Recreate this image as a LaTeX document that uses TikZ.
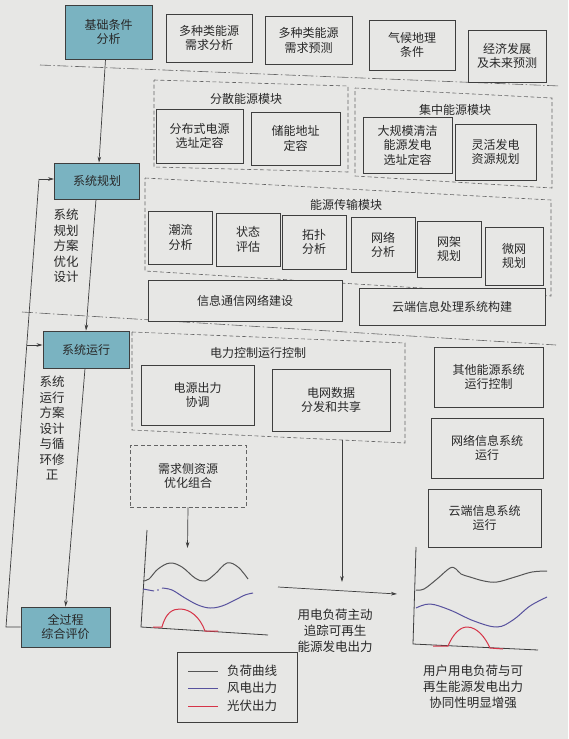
\documentclass[tikz,border=0pt]{standalone}
\usepackage{fontspec}
\setmainfont{Noto Sans CJK SC}
\usetikzlibrary{arrows.meta}
\definecolor{bg}{RGB}{231,231,229}
\definecolor{linec}{RGB}{62,62,62}
\definecolor{txt}{RGB}{40,40,40}
\definecolor{tealc}{RGB}{122,179,193}
\definecolor{dashc}{RGB}{100,100,100}
\definecolor{loadc}{RGB}{85,85,85}
\definecolor{windc}{RGB}{88,82,158}
\definecolor{pvc}{RGB}{214,52,72}
\newcommand\myfs{\fontsize{12pt}{14.5pt}\selectfont}
\newcommand\sidefs{\fontsize{12.5pt}{15.5pt}\selectfont}
\newcommand\chfs{\fontsize{12.5pt}{16pt}\selectfont}
\tikzset{
  box/.style={draw=linec, line width=0.9pt, fill=bg, align=center, inner sep=1pt, text=txt, font=\myfs},
  tbox/.style={box, fill=tealc},
  wh/.style 2 args={minimum width=#1pt, minimum height=#2pt},
  grp/.style={draw=dashc, line width=0.6pt, dash pattern=on 4pt off 2.5pt},
  grpbox/.style={grp, fill=bg, align=center, inner sep=1pt, text=txt, font=\myfs},
  ttl/.style={text=txt, font=\myfs, inner sep=1pt},
  sidetxt/.style={text=txt, font=\sidefs, align=center, inner sep=1pt},
  chtxt/.style={text=txt, font=\chfs, align=center, inner sep=1pt},
  sepline/.style={draw=dashc, line width=0.6pt, dash pattern=on 11pt off 2.5pt on 1.5pt off 2.5pt},
  ln/.style={draw=linec, line width=0.7pt},
  arr/.style={ln, -{Stealth[length=6pt,width=3.6pt]}},
  axisl/.style={draw=linec, line width=0.8pt},
  loadl/.style={draw=loadc, line width=1pt},
  windl/.style={draw=windc, line width=1pt},
  pvl/.style={draw=pvc, line width=1pt},
}
\begin{document}
\begin{tikzpicture}[x=1pt,y=-1pt]
\useasboundingbox[fill=bg] (0,0) rectangle (568,739);

% separators
\draw[sepline] (40,65) -- (560,86);
\draw[sepline] (22,312) -- (556,345);

% group frames
\draw[grp] (154,80) -- (348,86) -- (348,172) -- (154,167) -- cycle;
\draw[grp] (355,88) -- (552,98) -- (552,188) -- (355,176) -- cycle;
\draw[grp] (145,178) -- (551,200) -- (551,296) -- (145,271) -- cycle;
\draw[grp] (132,332) -- (405,343) -- (405,443) -- (132,430) -- cycle;
\node[ttl] (fsT) at (246,99) {分散能源模块};
\node[ttl] (jzT) at (455,110) {集中能源模块};
\node[ttl] (csT) at (346,205) {能源传输模块};
\node[ttl] (pcT) at (258,353) {电力控制运行控制};

% left column
\node[tbox, wh={87}{54}] (jc) at (108.5,32) {基础条件\\分析};
\node[tbox, wh={85}{36}] (gh) at (97,181) {系统规划};
\node[tbox, wh={86}{37}] (xy) at (86,349.5) {系统运行};
\node[tbox, wh={89}{40}] (qg) at (65.5,627) {全过程\\综合评价};
\node[sidetxt] (sg1) at (66,246) {系统\\规划\\方案\\优化\\设计};
\node[sidetxt] (sg2) at (52,428) {系统\\运行\\方案\\设计\\与循\\环修\\正};

% top row
\node[box, wh={86}{48}] (b1) at (209,38) {多种类能源\\需求分析};
\node[box, wh={87}{48}] (b2) at (308.5,40.5) {多种类能源\\需求预测};
\node[box, wh={86}{50}] (b3) at (412,45) {气候地理\\条件};
\node[box, wh={78}{52}] (b4) at (507,56) {经济发展\\及未来预测};

% module row
\node[box, wh={87}{54}] (m1) at (199.5,136) {分布式电源\\选址定容};
\node[box, wh={89}{53}] (m2) at (295.5,138.5) {储能地址\\定容};
\node[box, wh={89}{56}] (m3) at (407.5,145) {大规模清洁\\能源发电\\选址定容};
\node[box, wh={81}{56}] (m4) at (495.5,152) {灵活发电\\资源规划};

% transport
\node[box, wh={64}{53}] (t1) at (180.5,237.5) {潮流\\分析};
\node[box, wh={64}{53}] (t2) at (248,239.5) {状态\\评估};
\node[box, wh={64}{54}] (t3) at (314,242) {拓扑\\分析};
\node[box, wh={64}{55}] (t4) at (383,245) {网络\\分析};
\node[box, wh={64}{56}] (t5) at (449,249) {网架\\规划};
\node[box, wh={58}{58}] (t6) at (514,256) {微网\\规划};

\node[box, wh={194}{41}] (i1) at (245,300.5) {信息通信网络建设};
\node[box, wh={186}{37}] (i2) at (452,306.5) {云端信息处理系统构建};

% operation row
\node[box, wh={113}{60}] (p1) at (197.5,395) {电源出力\\协调};
\node[box, wh={118}{62}] (p2) at (331,400) {电网数据\\分发和共享};
\node[box, wh={109}{60}] (r1) at (488.5,377) {其他能源系统\\运行控制};
\node[box, wh={112}{60}] (r2) at (487,448) {网络信息系统\\运行};
\node[box, wh={113}{58}] (r3) at (484.5,518) {云端信息系统\\运行};
\node[grpbox, wh={116}{62}] (ds) at (188,476) {需求侧资源\\优化组合};

% main connectors
\draw[arr] ([xshift=-3pt]jc.south) -- ([xshift=2pt]gh.north);
\draw[arr] ([xshift=-1pt]gh.south) -- (xy.north);
\draw[arr] ([xshift=-1pt]xy.south) -- (qg.north);
\coordinate (fb1) at (6,627);
\coordinate (fb2) at (39,179);
\coordinate (fbm) at (27,345);
\draw[ln] (qg.west) -- (fb1) -- (fb2);
\draw[arr] (fb2) -- ([yshift=2pt]gh.west);
\draw[arr] (fbm) -- ([yshift=4.5pt]xy.west);

% chart arrows
\coordinate (dsTip) at (187.5,548);
\draw[arr] (ds.south) -- (dsTip);
\coordinate (pcB) at (342,440);
\coordinate (pcTip) at (342,582);
\draw[arr] (pcB) -- (pcTip);
\coordinate (hs) at (278,587);
\coordinate (he) at (397,594);
\draw[arr] (hs) -- (he);

% left chart
\draw[axisl] (147,530) -- (141,627) -- (268,635);
\draw[loadl] plot[smooth, tension=0.6] coordinates {(143,581) (149,579) (158,569) (170,563) (182,567) (195,578) (205,581) (215,574) (227,563) (238,567) (248,579)};
\draw[windl] (143,589) -- (154,591);
\fill[windc] (158,590) circle (0.9);
\draw[windl] plot[smooth, tension=0.6] coordinates {(162,588) (172,590) (185,598) (198,605) (210,608) (222,606) (235,600) (245,595) (253,593)};
\draw[pvl] (153,627) -- (162,627) .. controls (166,612) and (173,609) .. (180,609) .. controls (190,609) and (200,617) .. (205,631) -- (218,631);

\node[chtxt] (ct1) at (335,631) {用电负荷主动\\追踪可再生\\能源发电出力};

% right chart
\draw[axisl] (416,547) -- (413,644) -- (538,650);
\draw[loadl] plot[smooth, tension=0.6] coordinates {(416,590) (424,589) (437,579) (450,568) (456,569) (461,574) (470,577) (484,581) (497,582) (515,577) (532,572) (547,571)};
\draw[windl] plot[smooth, tension=0.6] coordinates {(416,608) (430,604) (450,610) (474,621) (497,627) (513,620) (530,606) (547,597)};
\draw[pvl] (433,646) -- (448,646) .. controls (453,634) and (460,627) .. (467,627) .. controls (477,627) and (485,637) .. (490,648) -- (503,649);

\node[chtxt] (ct2) at (473,687) {用户用电负荷与可\\再生能源发电出力\\协同性明显增强};

% legend
\node[draw=linec, line width=0.7pt, wh={120}{70}] (lg) at (237,687) {};
\draw[loadl] (188,671) -- (218,671);
\draw[windl] (188,688) -- (218,688);
\draw[pvl] (188,706) -- (218,706);
\node[chtxt, anchor=west] (lg1) at (226,671) {负荷曲线};
\node[chtxt, anchor=west] (lg2) at (226,688) {风电出力};
\node[chtxt, anchor=west] (lg3) at (226,706) {光伏出力};
\end{tikzpicture}
\end{document}
